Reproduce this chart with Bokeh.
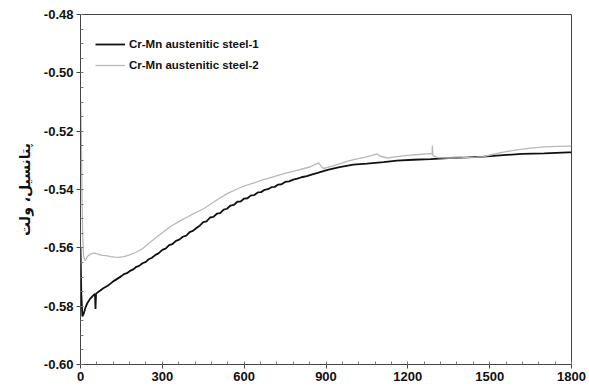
from bokeh.plotting import figure
from bokeh.models import FixedTicker, NumeralTickFormatter, Legend, LegendItem, Range1d
from bokeh.embed import file_html
from bokeh.resources import INLINE

# Series 1 (black): time [s], potential [V]
t1 = [0, 3, 7, 12, 18, 26, 35, 45, 53, 55, 57, 70, 85, 103, 120, 140,
      150, 160, 170, 180, 195, 205, 215, 227, 240, 250, 262, 275, 286, 300,
      312, 325, 337, 350, 362, 375, 388, 400, 412, 425, 437, 450, 462, 475,
      487, 500, 512, 525, 537, 550, 562, 575, 587, 600, 612, 625, 637, 650,
      662, 675, 687, 700, 712, 725, 737, 750, 765, 780, 795, 810, 830, 850,
      870, 890, 910, 950, 1000, 1050, 1111, 1160, 1220, 1283, 1350, 1420,
      1477, 1550, 1620, 1700, 1789, 1800]
v1 = [-0.5600, -0.5760, -0.5835, -0.5825, -0.5805, -0.5788, -0.5775, -0.5765,
      -0.5758, -0.5810, -0.5757, -0.5748, -0.5738, -0.5728, -0.5715, -0.5703,
      -0.5697, -0.5690, -0.5687, -0.5680, -0.5673, -0.5665, -0.5662, -0.5653,
      -0.5648, -0.5639, -0.5634, -0.5624, -0.5619, -0.5607, -0.5603, -0.5591,
      -0.5587, -0.5576, -0.5572, -0.5562, -0.5558, -0.5546, -0.5542, -0.5532,
      -0.5524, -0.5512, -0.5509, -0.5496, -0.5494, -0.5483, -0.5481, -0.5469,
      -0.5466, -0.5455, -0.5453, -0.5442, -0.5441, -0.5431, -0.5430, -0.5420,
      -0.5419, -0.5410, -0.5409, -0.5401, -0.5399, -0.5392, -0.5391, -0.5383,
      -0.5382, -0.5374, -0.5372, -0.5366, -0.5363, -0.5358, -0.5354, -0.5348,
      -0.5343, -0.5337, -0.5332, -0.5323, -0.5315, -0.5311, -0.5306, -0.5301,
      -0.5298, -0.5296, -0.5292, -0.5290, -0.5287, -0.5282, -0.5278, -0.5276,
      -0.5273, -0.5273]

# Series 2 (grey)
t2 = [0, 2, 4, 6, 8, 11, 15, 18, 25, 35, 45, 55, 65, 80, 95, 110, 125, 140,
      160, 180, 202, 227, 250, 275, 300, 330, 360, 390, 420, 451, 480, 510,
      538, 570, 600, 634, 665, 697, 730, 760, 790, 820, 843, 860, 873, 882,
      891, 920, 950, 980, 1010, 1040, 1070, 1088, 1100, 1125, 1160, 1200,
      1240, 1283, 1289, 1290, 1292, 1309, 1350, 1400, 1450, 1477, 1510, 1550,
      1600, 1650, 1700, 1750, 1800]
v2 = [-0.5090, -0.5150, -0.5300, -0.5450, -0.5560, -0.5625, -0.5640, -0.5644,
      -0.5630, -0.5622, -0.5619, -0.5618, -0.5622, -0.5626, -0.5627, -0.5630,
      -0.5632, -0.5633, -0.5630, -0.5624, -0.5616, -0.5603, -0.5585, -0.5566,
      -0.5548, -0.5527, -0.5510, -0.5495, -0.5480, -0.5466, -0.5448, -0.5430,
      -0.5414, -0.5400, -0.5388, -0.5378, -0.5368, -0.5359, -0.5350, -0.5342,
      -0.5335, -0.5328, -0.5322, -0.5314, -0.5309, -0.5320, -0.5328, -0.5321,
      -0.5312, -0.5303, -0.5296, -0.5290, -0.5283, -0.5278, -0.5286, -0.5292,
      -0.5287, -0.5283, -0.5280, -0.5277, -0.5278, -0.5250, -0.5284, -0.5291,
      -0.5292, -0.5291, -0.5289, -0.5287, -0.5280, -0.5272, -0.5264, -0.5258,
      -0.5254, -0.5252, -0.5251]

names = ["Cr-Mn austenitic steel-1", "Cr-Mn austenitic steel-2"]
x_ticks = [0, 300, 600, 900, 1200, 1500, 1800]
x_minor = list(range(0, 1801, 60))
y_ticks = [-0.60, -0.58, -0.56, -0.54, -0.52, -0.50, -0.48]
y_minor = [round(-0.60 + 0.005 * i, 3) for i in range(25)]
y_label = "پتانسیل، ولت"

p = figure(width=589, height=389, output_backend="svg", toolbar_location=None,
           x_range=Range1d(0, 1800), y_range=Range1d(-0.60, -0.48),
           min_border_left=80, min_border_right=18, min_border_top=14,
           min_border_bottom=25)
p.grid.visible = False
p.background_fill_color = "white"
p.border_fill_color = "white"
p.outline_line_color = "#444444"
p.outline_line_width = 1

r1 = p.line(t1, v1, line_color="#111111", line_width=1.8)
r2 = p.line(t2, v2, line_color="#b8b8b8", line_width=1.3)

font = "Liberation Sans"
p.xaxis.ticker = FixedTicker(ticks=x_ticks, minor_ticks=x_minor)
p.yaxis.ticker = FixedTicker(ticks=y_ticks, minor_ticks=y_minor)
p.yaxis.formatter = NumeralTickFormatter(format="0.00")
for ax in (p.xaxis[0], p.yaxis[0]):
    ax.axis_line_color = "#444444"
    ax.major_tick_line_color = "#444444"
    ax.minor_tick_line_color = "#777777"
    ax.major_tick_in = 0
    ax.major_tick_out = 4
    ax.minor_tick_in = 3
    ax.minor_tick_out = 0
    ax.major_label_text_font = font
    ax.major_label_text_font_style = "bold"
    ax.major_label_text_font_size = "13px"
    ax.major_label_text_color = "#111111"
p.xaxis.major_label_standoff = 3
p.yaxis.major_label_standoff = 3
p.yaxis.axis_label = y_label
p.yaxis.axis_label_text_font = "DejaVu Sans"
p.yaxis.axis_label_text_font_style = "bold"
p.yaxis.axis_label_text_font_size = "14px"
p.yaxis.axis_label_text_color = "#111111"
p.yaxis.axis_label_standoff = 8

legend = Legend(items=[LegendItem(label=names[0], renderers=[r1]),
                       LegendItem(label=names[1], renderers=[r2])],
                location=(15, 289), border_line_color=None,
                background_fill_alpha=0, label_text_font=font,
                label_text_font_style="bold", label_text_font_size="11.5px",
                label_text_color="#111111", glyph_width=30, spacing=1,
                label_standoff=4, padding=6)
p.add_layout(legend, "center")

open("out.html", "w").write(file_html(p, INLINE))
